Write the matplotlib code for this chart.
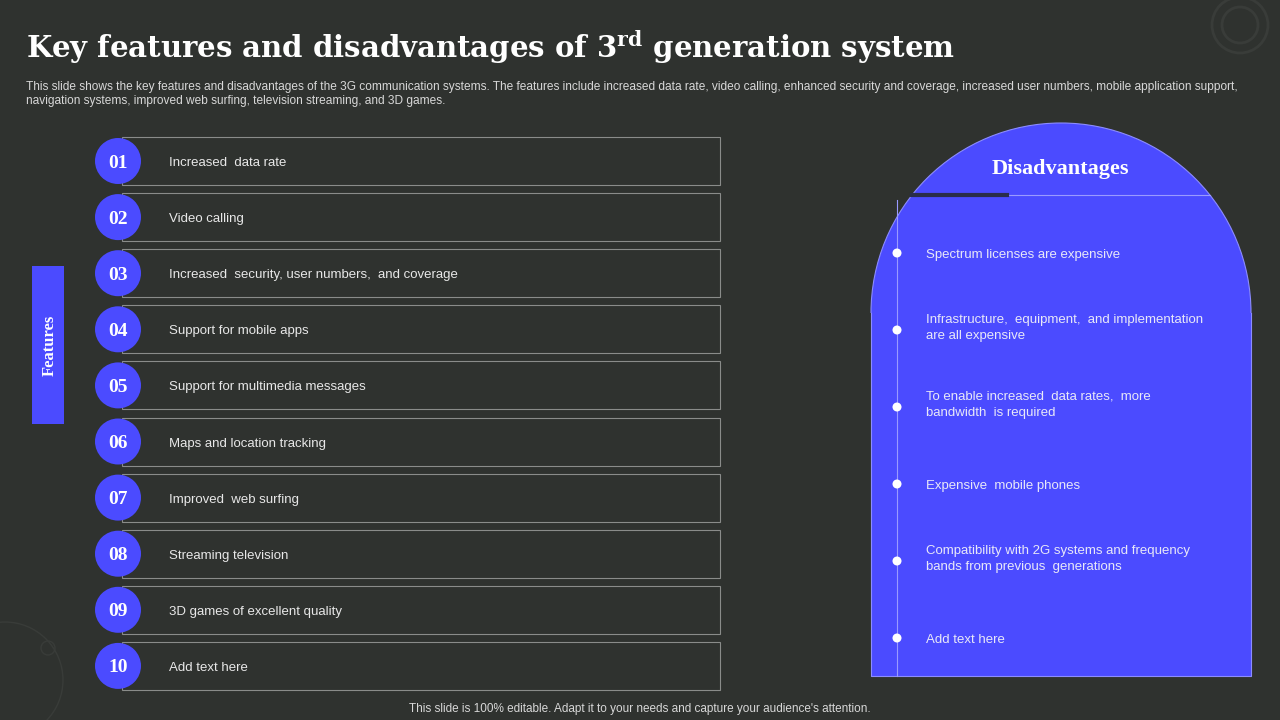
import matplotlib.pyplot as plt
from matplotlib.patches import Rectangle, Circle, Wedge, Arc
import numpy as np

bg = '#2f322f'
blue = '#4b4bff'
sans = 'Liberation Sans'
serif = 'Liberation Serif'

numbers = ['01', '02', '03', '04', '05', '06', '07', '08', '09', '10']
features = ['Increased  data rate', 'Video calling',
            'Increased  security, user numbers,  and coverage',
            'Support for mobile apps', 'Support for multimedia messages',
            'Maps and location tracking', 'Improved  web surfing',
            'Streaming television', '3D games of excellent quality', 'Add text here']
disadvantages = ['Spectrum licenses are expensive',
                 'Infrastructure,  equipment,  and implementation\nare all expensive',
                 'To enable increased  data rates,  more\nbandwidth  is required',
                 'Expensive  mobile phones',
                 'Compatibility with 2G systems and frequency\nbands from previous  generations',
                 'Add text here']
dis_y = [253, 330, 407, 484, 561, 638]

fig = plt.figure(figsize=(12.8, 7.2), dpi=100, facecolor=bg)
ax = fig.add_axes([0, 0, 1, 1])
ax.set_xlim(0, 1280)
ax.set_ylim(720, 0)
ax.axis('off')
ax.set_facecolor(bg)

ax.text(26, 47, 'Key features and disadvantages of 3$^{\\mathregular{rd}}$ generation system',
        fontsize=21, fontweight='bold', family='DejaVu Serif', color='white', va='center')
ax.text(26, 94, 'This slide shows the key features and disadvantages of the 3G communication systems. The features include increased data rate, video calling, enhanced security and coverage, increased user numbers, mobile application support,\nnavigation systems, improved web surfing, television streaming, and 3D games.',
        fontsize=8.6, family=sans, color='#d8d8d8', va='center', linespacing=1.3)

# decorative rings
ax.add_patch(Circle((1240, 25), 28, fill=False, ec='#393c39', lw=2))
ax.add_patch(Circle((1240, 25), 18, fill=False, ec='#393c39', lw=2))
ax.add_patch(Circle((5, 680), 58, fill=False, ec='#393c39', lw=1))
ax.add_patch(Circle((48, 648), 7, fill=False, ec='#393c39', lw=1))

# features label
ax.add_patch(Rectangle((32, 266), 32, 158, fc=blue, ec='none'))
ax.text(50, 345, 'Features', rotation=90, color='white', fontsize=12,
        fontweight='bold', family=serif, ha='center', va='center')

for i, (n, f) in enumerate(zip(numbers, features)):
    y = 161 + i * 56.1
    ax.add_patch(Rectangle((122, y - 24), 598, 48, fc=bg, ec='#8a8c8a', lw=0.8))
    ax.add_patch(Circle((118, y), 23, fc=blue, ec='none', zorder=3))
    ax.text(118, y + 2, n, color='white', fontsize=14, fontweight='bold',
            family=serif, ha='center', va='center', zorder=4)
    ax.text(169, y + 2, f, color='#e8e8e8', fontsize=9.5, family=sans, va='center')

# arch
cx, cy, r = 1061, 313, 190
ax.add_patch(Wedge((cx, cy), r, 180, 360, fc=blue, ec='none'))
ax.add_patch(Rectangle((871, cy - 1), 380, 676 - cy + 1, fc=blue, ec='none'))
ax.add_patch(Arc((cx, cy), 2 * r, 2 * r, theta1=180, theta2=360, color='#8c8cff', lw=0.8))
ax.plot([871, 871, 1251, 1251], [cy, 676, 676, cy], color='#8c8cff', lw=0.8)
ax.plot([912, 1210], [195, 195], color='#9a9aff', lw=0.8)
ax.plot([912, 1007], [195, 195], color='#2a2d4a', lw=3)
ax.text(1060, 169, 'Disadvantages', color='white', fontsize=16, fontweight='bold',
        family=serif, ha='center', va='center')
ax.plot([897, 897], [200, 676], color='#9a9aff', lw=0.8)
for y, t in zip(dis_y, disadvantages):
    ax.add_patch(Circle((897, y), 4.5, fc='white', ec='none', zorder=3))
    ax.text(926, y - 2 if '\n' in t else y + 2, t, color='#e8e8f8', fontsize=9.5,
            family=sans, va='center', linespacing=1.45)

ax.text(640, 709, "This slide is 100% editable. Adapt it to your needs and capture your audience's attention.",
        color='#d8d8d8', fontsize=8.5, family=sans, ha='center', va='center')

fig.savefig('out.png', dpi=100, facecolor=bg)
